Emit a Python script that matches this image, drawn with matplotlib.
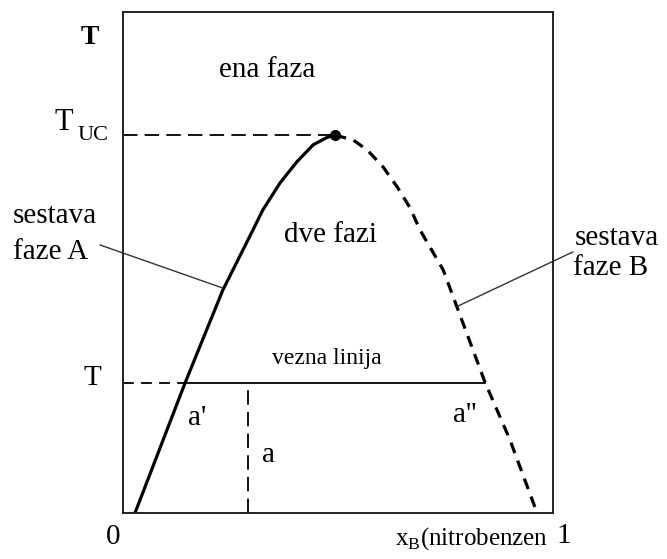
import matplotlib
matplotlib.use("Agg")
import matplotlib.pyplot as plt

plt.rcParams["font.family"] = ["Liberation Serif", "DejaVu Serif"]

# binodal curve, x_B vs T (reduced units, T from 0 to 1)
phase_a_x = [0.029, 0.145, 0.233, 0.303, 0.326, 0.366, 0.405, 0.443, 0.476, 0.494]
phase_a_t = [0.000, 0.259, 0.445, 0.565, 0.605, 0.659, 0.701, 0.735, 0.750, 0.754]
phase_b_x = [0.494, 0.535, 0.568, 0.605, 0.638, 0.668, 0.691, 0.745, 0.777, 0.842, 0.900, 0.963]
phase_b_t = [0.754, 0.745, 0.725, 0.691, 0.651, 0.609, 0.565, 0.485, 0.411, 0.261, 0.146, 0.000]

t_uc = 0.754
x_uc = 0.494
t_tie = 0.259
x_a1 = 0.145   # a'
x_a2 = 0.842   # a''
x_a = 0.292    # overall composition a

fig = plt.figure(figsize=(6.67, 5.59), dpi=100)
ax = fig.add_axes([0.1837, 0.0823, 0.6454, 0.8962])
ax.set_xlim(0, 1)
ax.set_ylim(0, 1)
ax.set_xticks([])
ax.set_yticks([])
for s in ax.spines.values():
    s.set_linewidth(1.4)
    s.set_color("#222222")

ax.plot(phase_a_x, phase_a_t, color="black", lw=2.3, solid_joinstyle="round")
ax.plot(phase_b_x, phase_b_t, color="black", lw=2.3, dashes=(3.5, 2.5))
ax.plot([x_uc], [t_uc], "o", color="black", ms=7)

# guide lines to the T axis
ax.plot([0, x_uc], [t_uc, t_uc], color="black", lw=1.3, dashes=(8, 4))
ax.plot([0, x_a1], [t_tie, t_tie], color="black", lw=1.3, dashes=(6, 4))
ax.plot([x_a1, x_a2], [t_tie, t_tie], color="black", lw=1.3)
ax.plot([x_a, x_a], [0, t_tie], color="black", lw=1.3, dashes=(8, 4))

# pointers to the two branches
ax.plot([-0.052, 0.233], [0.535, 0.449], color="#333333", lw=1.0, clip_on=False)
ax.plot([1.046, 0.779], [0.521, 0.413], color="#333333", lw=1.0, clip_on=False)

fs = 21
kw = dict(ha="center", va="center", clip_on=False)
ax.text(-0.075, 0.950, "T", fontsize=20, fontweight="bold", **kw)
ax.text(0.336, 0.884, "ena faza", fontsize=fs, **kw)
ax.text(-0.136, 0.780, "T", fontsize=22, **kw)
ax.text(-0.069, 0.754, "UC", fontsize=16, **kw)
ax.text(-0.254, 0.593, "sestava", fontsize=fs, ha="left", va="center")
ax.text(-0.254, 0.521, "faze A", fontsize=fs, ha="left", va="center")
ax.text(0.482, 0.555, "dve fazi", fontsize=fs, **kw)
ax.text(1.051, 0.549, "sestava", fontsize=fs, ha="left", va="center")
ax.text(1.046, 0.489, "faze B", fontsize=fs, ha="left", va="center")
ax.text(0.475, 0.309, "vezna linija", fontsize=17, **kw)
ax.text(-0.071, 0.269, "T", fontsize=fs, **kw)
ax.text(0.173, 0.190, "a'", fontsize=fs, **kw)
ax.text(0.340, 0.116, "a", fontsize=fs, **kw)
ax.text(0.795, 0.196, "a''", fontsize=fs, **kw)
ax.text(-0.022, -0.048, "0", fontsize=fs, **kw)
ax.text(0.633, -0.052, "x$_\\mathregular{B}$(nitrobenzen", fontsize=18,
        ha="left", va="center")
ax.text(1.026, -0.046, "1", fontsize=fs, **kw)

fig.savefig("out.png", dpi=100)
